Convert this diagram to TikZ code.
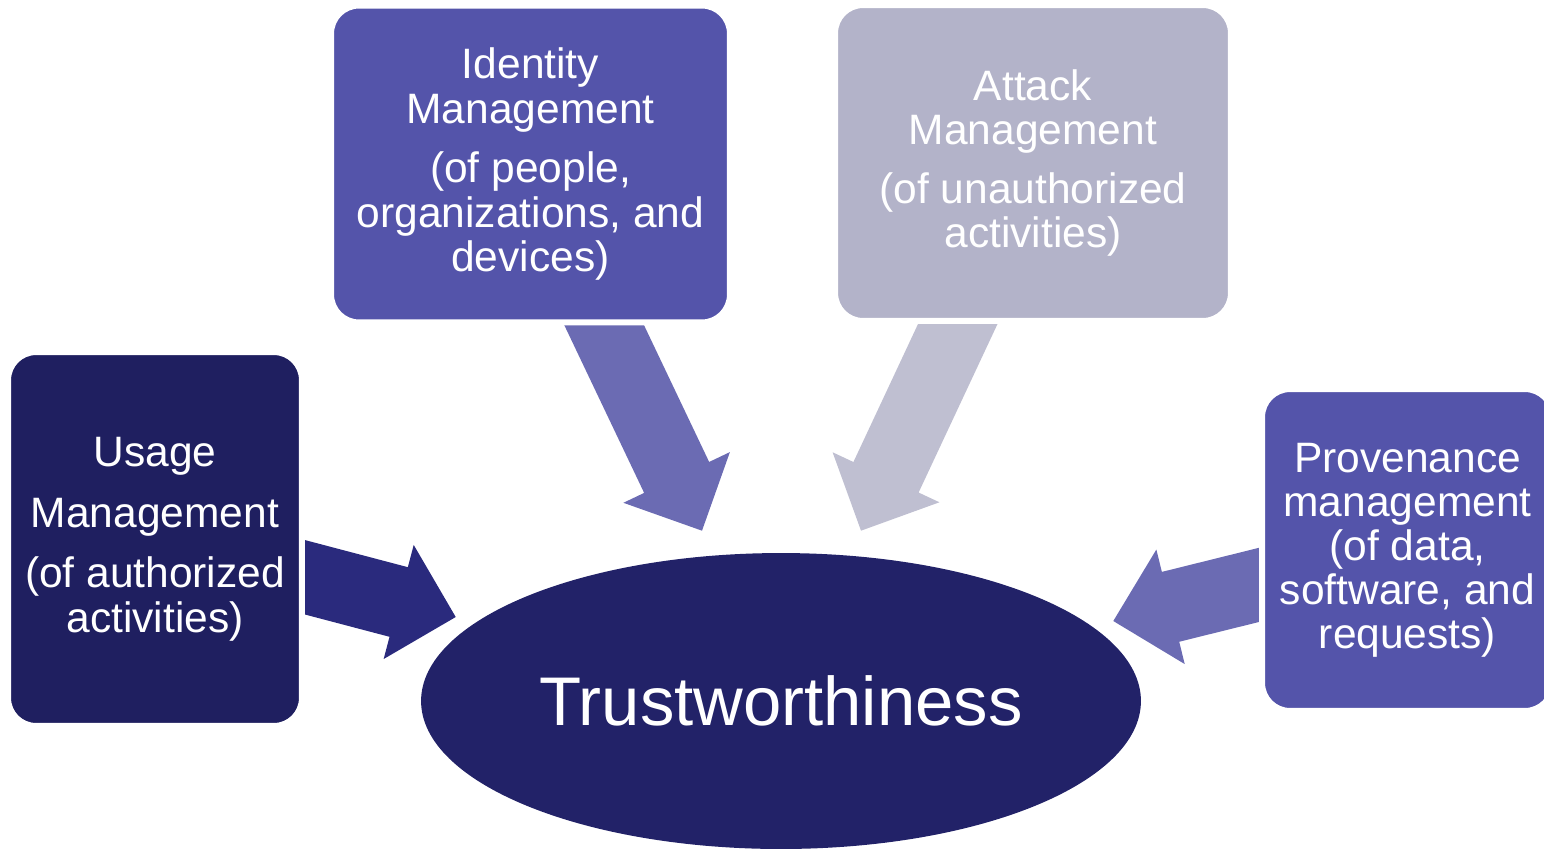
\documentclass[tikz,border=0pt]{standalone}
\usepackage{fontspec}
\setmainfont{Liberation Sans}
\usetikzlibrary{shapes,calc,backgrounds}
\definecolor{boxblue}{RGB}{84,84,170}
\definecolor{arrowblue}{RGB}{107,107,179}
\definecolor{boxgrey}{RGB}{179,179,201}
\definecolor{arrowgrey}{RGB}{191,191,209}
\definecolor{boxnavy}{RGB}{31,31,96}
\definecolor{arrownavy}{RGB}{42,42,125}
\definecolor{corenavy}{RGB}{34,34,104}
\tikzstyle{area}=[rectangle,rounded corners=0.56cm,draw=white,line width=0.12cm,text=white,align=center,inner sep=0pt,font=\fontsize{24.2}{25.1}\selectfont]
\tikzstyle{core}=[ellipse,fill=corenavy,text=white,inner sep=0pt,minimum width=14.4cm,minimum height=5.92cm,font=\fontsize{39.2}{47}\selectfont]
% fat arrow: colour, tail, tip
\newcommand{\blockarrow}[3]{%
  \coordinate (head) at ($(#3)!1.18cm!(#2)$);
  \fill[#1] ($(#2)!0.72cm!90:(#3)$) -- ($(head)!0.72cm!90:(#3)$)
    -- ($(head)!1.18cm!90:(#3)$) -- (#3)
    -- ($(head)!1.18cm!-90:(#3)$) -- ($(head)!0.72cm!-90:(#3)$)
    -- ($(#2)!0.72cm!-90:(#3)$) -- cycle;}

\begin{document}
\begin{tikzpicture}[x=0.02cm,y=-0.02cm]
  \useasboundingbox (0,0) rectangle (1544,850);
% management areas
  \node[area,fill=boxblue,minimum width=7.98cm,minimum height=6.34cm] (identity) at (530.5,164)
    {Identity\\Management\\[9pt](of people,\\organizations, and\\devices)};
  \node[area,fill=boxgrey,minimum width=7.92cm,minimum height=6.32cm] (attack) at (1033,163)
    {Attack\\Management\\[8pt](of unauthorized\\activities)};
  \node[area,fill=boxnavy,minimum width=5.88cm,minimum height=7.48cm] (usage) at (155,539)
    {Usage\\[9.5pt]Management\\[9.5pt](of authorized\\activities)};
  \node[area,fill=boxblue,minimum width=5.82cm,minimum height=6.44cm] (provenance) at (1407.5,550)
    {Provenance\\management\\(of data,\\software, and\\requests)};
% centre
  \node[core] (trust) at (781,701) {Trustworthiness};
% arrows
  \coordinate (idtail) at ($(identity.south)+(63.8,-21)$);
  \coordinate (idtip) at ($(trust.north)+(-79,-22)$);
  \coordinate (attail) at ($(attack.south)+(-65.4,-21)$);
  \coordinate (attip) at ($(trust.north)+(80,-22)$);
  \coordinate (ustail) at ($(usage.east)+(-17,33.8)$);
  \coordinate (ustip) at ($(trust.west)+(35,-84)$);
  \coordinate (prtail) at ($(provenance.west)+(18,30.4)$);
  \coordinate (prtip) at ($(trust.east)+(-28,-80)$);
  \begin{scope}[on background layer]
    \blockarrow{arrowblue}{idtail}{idtip}
    \blockarrow{arrowgrey}{attail}{attip}
    \blockarrow{arrownavy}{ustail}{ustip}
    \blockarrow{arrowblue}{prtail}{prtip}
  \end{scope}
\end{tikzpicture}
\end{document}
